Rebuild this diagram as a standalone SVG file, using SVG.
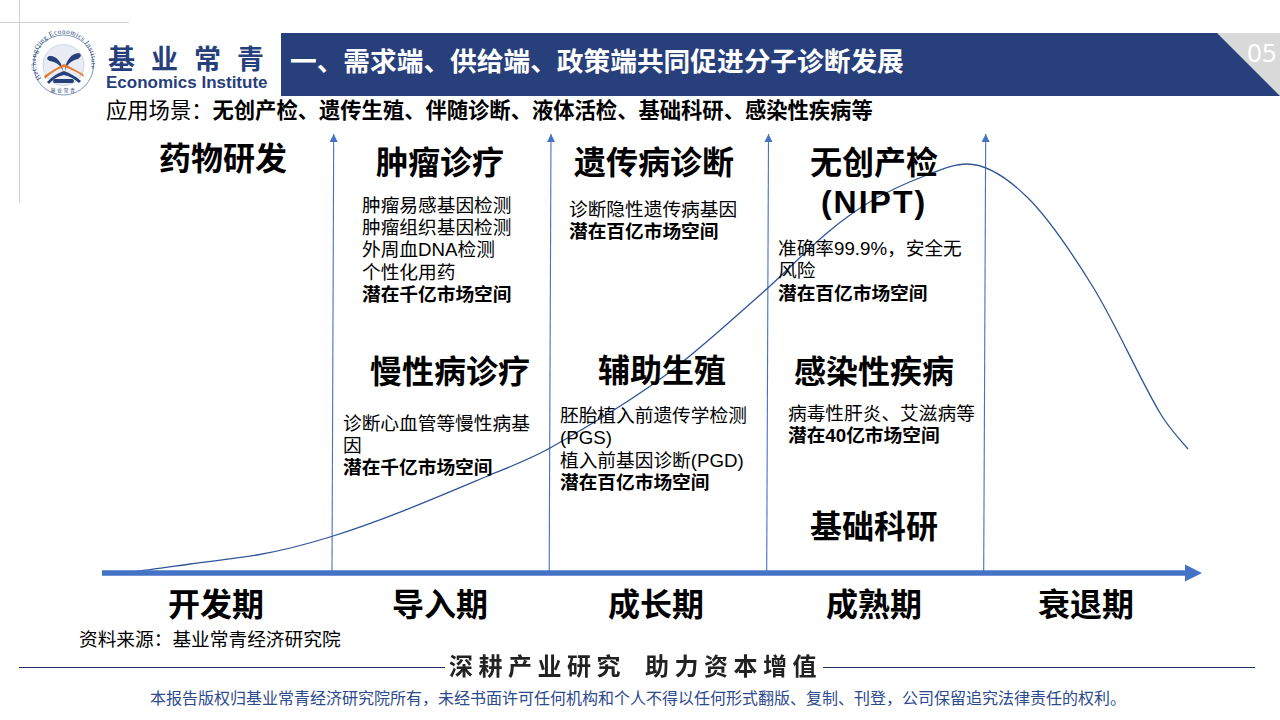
<svg xmlns="http://www.w3.org/2000/svg" width="1280" height="720" viewBox="0 0 1280 720">
<style>
text{font-family:"Liberation Sans","Noto Sans CJK SC",sans-serif;fill:#000}
.h{font-size:32px;font-weight:700;text-anchor:middle}
.b{font-size:18.7px}
.bb{font-size:18.7px;font-weight:700}
.p{font-size:32px;font-weight:700;text-anchor:middle}
.v{stroke:#4472c4;stroke-width:1.100;fill:none;marker-end:url(#a)}
</style>
<defs>
<marker id="a" markerUnits="userSpaceOnUse" markerWidth="10" markerHeight="9" refX="8" refY="4" orient="auto"><path d="M0 0L8 4L0 8z" fill="#4472c4"/></marker>
<marker id="m" markerUnits="userSpaceOnUse" markerWidth="20" markerHeight="20" refX="1" refY="9" orient="auto"><path d="M0 0.500L17 9L0 17.500z" fill="#4472c4"/></marker>
<filter id="s" x="-5%" y="-20%" width="110%" height="140%"><feGaussianBlur stdDeviation="0.6"/></filter>
</defs>
<rect width="1280" height="720" fill="#fff"/>
<g id="guides" stroke="#d0d0d0" stroke-width="1"><path d="M19.500 0V203M0 22.500H129"/></g>
<g id="logo">
<circle cx="63.500" cy="65" r="30" fill="#fff" stroke="#7f95c0" stroke-width="1"/>
<circle cx="63.500" cy="65" r="20.500" fill="#e9edf3" stroke="#a8b8d0" stroke-width="0.500"/>
<path d="M63 71C62 62 56 55 49 56C46 58 47 60 50 61C55 62 60 64 63 71zM65 71C65 62 71 53 79 53C82 55 81 57 78 59C73 60 67 63 65 71z" fill="#27407c"/>
<path d="M45 79C52 72 58 69 64 67C71 69 77 72 84 77L83 74C76 70 71 67 64 64C58 67 51 71 44 76z" fill="#e57a2c"/>
<path d="M47 82C53 76 58 73 64 71C70 73 75 76 81 81L79 83C73 78 69 76 64 75C59 76 54 78 49 84z" fill="#27407c"/>
<rect x="53" y="79" width="21" height="4" rx="2" fill="#27407c"/>
<path id="lc" d="M40.500 84A29 29 0 1 1 86.500 84" fill="none" transform="translate(2.600 -2.200) scale(0.960)"/>
<text style="font-size:7px;fill:#27407c;font-family:'Liberation Serif',serif"><textPath href="#lc" textLength="112" lengthAdjust="spacing">HeChangQing Economics Institute</textPath></text>
<text x="63.500" y="92" text-anchor="middle" style="font-size:5px;fill:#27407c;letter-spacing:1.500px">基业常青</text>
<text x="108" y="69" style="fill:#27407c;font-size:27px;font-weight:700;letter-spacing:16px;font-family:'Noto Sans CJK SC',sans-serif">基业常青</text>
<text x="106" y="87.500" style="fill:#27407c;font-size:17px;font-weight:700">Economics Institute</text>
</g>
<g id="header">
<rect x="281" y="33" width="999" height="63" fill="#27407c"/>
<path d="M1217 33H1280V96z" fill="#d9d9d9"/>
<text x="1247" y="62" style="fill:#fff;font-size:26px;font-family:'Noto Sans',sans-serif">05</text>
<text x="290" y="71" style="fill:#fff;font-size:26.700px;font-weight:700">一、需求端、供给端、政策端共同促进分子诊断发展</text>
</g>
<g id="subtitle"><text x="106" y="118" style="font-size:21.300px">应用场景：<tspan font-weight="700">无创产检、遗传生殖、伴随诊断、液体活检、基础科研、感染性疾病等</tspan></text></g>
<g id="connectors">
<path class="v" d="M332 571L333.700 134"/>
<path class="v" d="M549.200 571L551 134"/>
<path class="v" d="M766.700 571L768.500 134"/>
<path class="v" d="M983.700 571L985.700 134"/>
<path d="M130 572C150 570 170 566.800 190 564C212.300 560.900 234.700 558.800 257 555C281.300 550.900 305.700 544.500 330 537C383.300 520.500 436.700 497.400 490 475C510 466.600 530 459.300 550 448C587.700 426.700 625.300 404.500 663 377C695.300 353.500 727.700 323.400 760 295C782.300 275.400 804.700 251.800 827 233C842.300 220.100 857.700 208.900 873 200C891 189.600 909 181.900 927 175C940.300 169.900 953.700 164 967 164C987 164 1007 177.500 1027 197C1049 218.500 1071 251.400 1093 287C1115.300 323.100 1137.700 375 1160 413C1169.300 428.800 1178.700 437.800 1188 449" fill="none" stroke="#2f5597" stroke-width="1.300"/>
<path d="M102 573H1186" fill="none" stroke="#4472c4" stroke-width="5.500" marker-end="url(#m)"/>
</g>
<g id="n1"><text class="h" x="223" y="170">药物研发</text></g>
<g id="n2"><text class="h" x="440" y="174">肿瘤诊疗</text>
<text class="b" x="362" y="212">肿瘤易感基因检测</text><text class="b" x="362" y="234">肿瘤组织基因检测</text><text class="b" x="362" y="256">外周血DNA检测</text><text class="b" x="362" y="279">个性化用药</text><text class="bb" x="362" y="301">潜在千亿市场空间</text></g>
<g id="n3"><text class="h" x="654" y="174">遗传病诊断</text>
<text class="b" x="569" y="216">诊断隐性遗传病基因</text><text class="bb" x="569" y="238">潜在百亿市场空间</text></g>
<g id="n4"><text class="h" x="874" y="174">无创产检</text><text class="h" x="874" y="213" style="letter-spacing:2px">(NIPT)</text>
<text class="b" x="778" y="255">准确率99.9%，安全无</text><text class="b" x="778" y="277">风险</text><text class="bb" x="778" y="300">潜在百亿市场空间</text></g>
<g id="n5"><text class="h" x="450" y="383">慢性病诊疗</text>
<text class="b" x="343" y="430">诊断心血管等慢性病基</text><text class="b" x="343" y="452">因</text><text class="bb" x="343" y="474">潜在千亿市场空间</text></g>
<g id="n6"><text class="h" x="662" y="382">辅助生殖</text>
<text class="b" x="560" y="422">胚胎植入前遗传学检测</text><text class="b" x="560" y="444">(PGS)</text><text class="b" x="560" y="467">植入前基因诊断(PGD)</text><text class="bb" x="560" y="489">潜在百亿市场空间</text></g>
<g id="n7"><text class="h" x="874" y="383">感染性疾病</text>
<text class="b" x="788" y="420">病毒性肝炎、艾滋病等</text><text class="bb" x="788" y="442">潜在40亿市场空间</text></g>
<g id="n8"><text class="h" x="874" y="538">基础科研</text></g>
<g id="phases">
<text class="p" x="216" y="616">开发期</text><text class="p" x="440" y="616">导入期</text><text class="p" x="656" y="616">成长期</text><text class="p" x="874" y="616">成熟期</text><text class="p" x="1086" y="616">衰退期</text>
</g>
<g id="source"><text x="79" y="646" style="font-size:18.700px">资料来源：基业常青经济研究院</text></g>
<g id="footer">
<path d="M19 667.500H445M823 667.500H1255" stroke="#1f2f5f" stroke-width="1"/>
<g filter="url(#s)" style="font-size:24px;font-weight:700;letter-spacing:5.500px"><text x="449" y="675" style="fill:#222">深耕产业研究</text><text x="645" y="675" style="fill:#222">助力资本增值</text></g>
<text x="150" y="704" style="font-size:16px;fill:#2c4a8c">本报告版权归基业常青经济研究院所有，未经书面许可任何机构和个人不得以任何形式翻版、复制、刊登，公司保留追究法律责任的权利。</text>
</g>
</svg>
